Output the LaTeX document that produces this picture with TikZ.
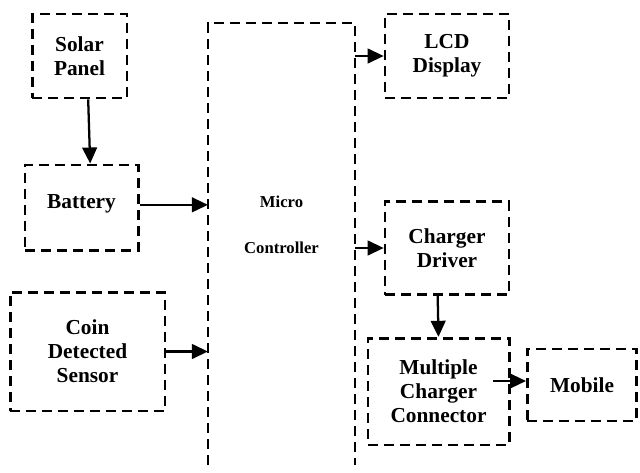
\documentclass[tikz,border=0pt]{standalone}
\usepackage{fontspec}
\setmainfont{Liberation Serif}
\usetikzlibrary{arrows.meta}
\begin{document}
\begin{tikzpicture}[x=0.75pt,y=-0.75pt] % схема
\tikzstyle{blok} = [draw, dash pattern=on 7.5pt off 4.5pt, line width=2pt, align=center, font=\fontsize{16}{18}\selectfont\bfseries] % dashed block style
\tikzstyle{arr} = [line width=1.7pt, -{Triangle[length=12pt,width=11pt]}] % arrow style
\useasboundingbox (0,0) rectangle (640,472);
% блоки слева
\node[blok, minimum width=71pt, minimum height=63pt] (solar) at (79.5,56) {Solar\\Panel};
\node[blok, minimum width=85pt, minimum height=64pt, text depth=9pt] (battery) at (81.5,207.5) {Battery};
\node[blok, minimum width=116pt, minimum height=89pt] (coin) at (87.5,351.5) {Coin\\Detected\\Sensor};
% микроконтроллер без нижней стороны
\node[minimum width=110pt, minimum height=331pt, align=center, font=\fontsize{12.5}{14}\selectfont\bfseries] (mc) at (281.5,244) {Micro\\[20pt]Controller\\[15pt]};
\draw[dash pattern=on 7.5pt off 4.5pt, line width=2pt] (mc.south west) -- (mc.north west) -- (mc.north east) -- (mc.south east);
% блоки справа
\node[blok, minimum width=93pt, minimum height=63pt] (lcd) at (447,56) {LCD\\Display};
\node[blok, minimum width=93pt, minimum height=70pt] (driver) at (447,248) {Charger\\Driver};
\node[blok, minimum width=106pt, minimum height=80pt] (mcc) at (438.5,391.5) {Multiple\\Charger\\Connector};
\node[blok, minimum width=82pt, minimum height=54pt] (mobile) at (582,385) {Mobile};
% стрелки
\draw[arr] ([xshift=6.5pt]solar.south) -- ([xshift=6.5pt]battery.north);
\draw[arr] ([yshift=2pt]battery.east) -- ([yshift=2pt]battery.east -| mc.west);
\draw[arr] (coin.east) -- (coin.east -| mc.west);
\draw[arr] (lcd.west -| mc.east) -- (lcd.west);
\draw[arr] (driver.west -| mc.east) -- (driver.west);
\draw[arr] ([xshift=-7pt]driver.south) -- (mcc.north);
\draw[arr] ([xshift=-13pt,yshift=3pt]mcc.east |- mobile.west) -- ([yshift=3pt]mobile.west);
\end{tikzpicture}
\end{document}
